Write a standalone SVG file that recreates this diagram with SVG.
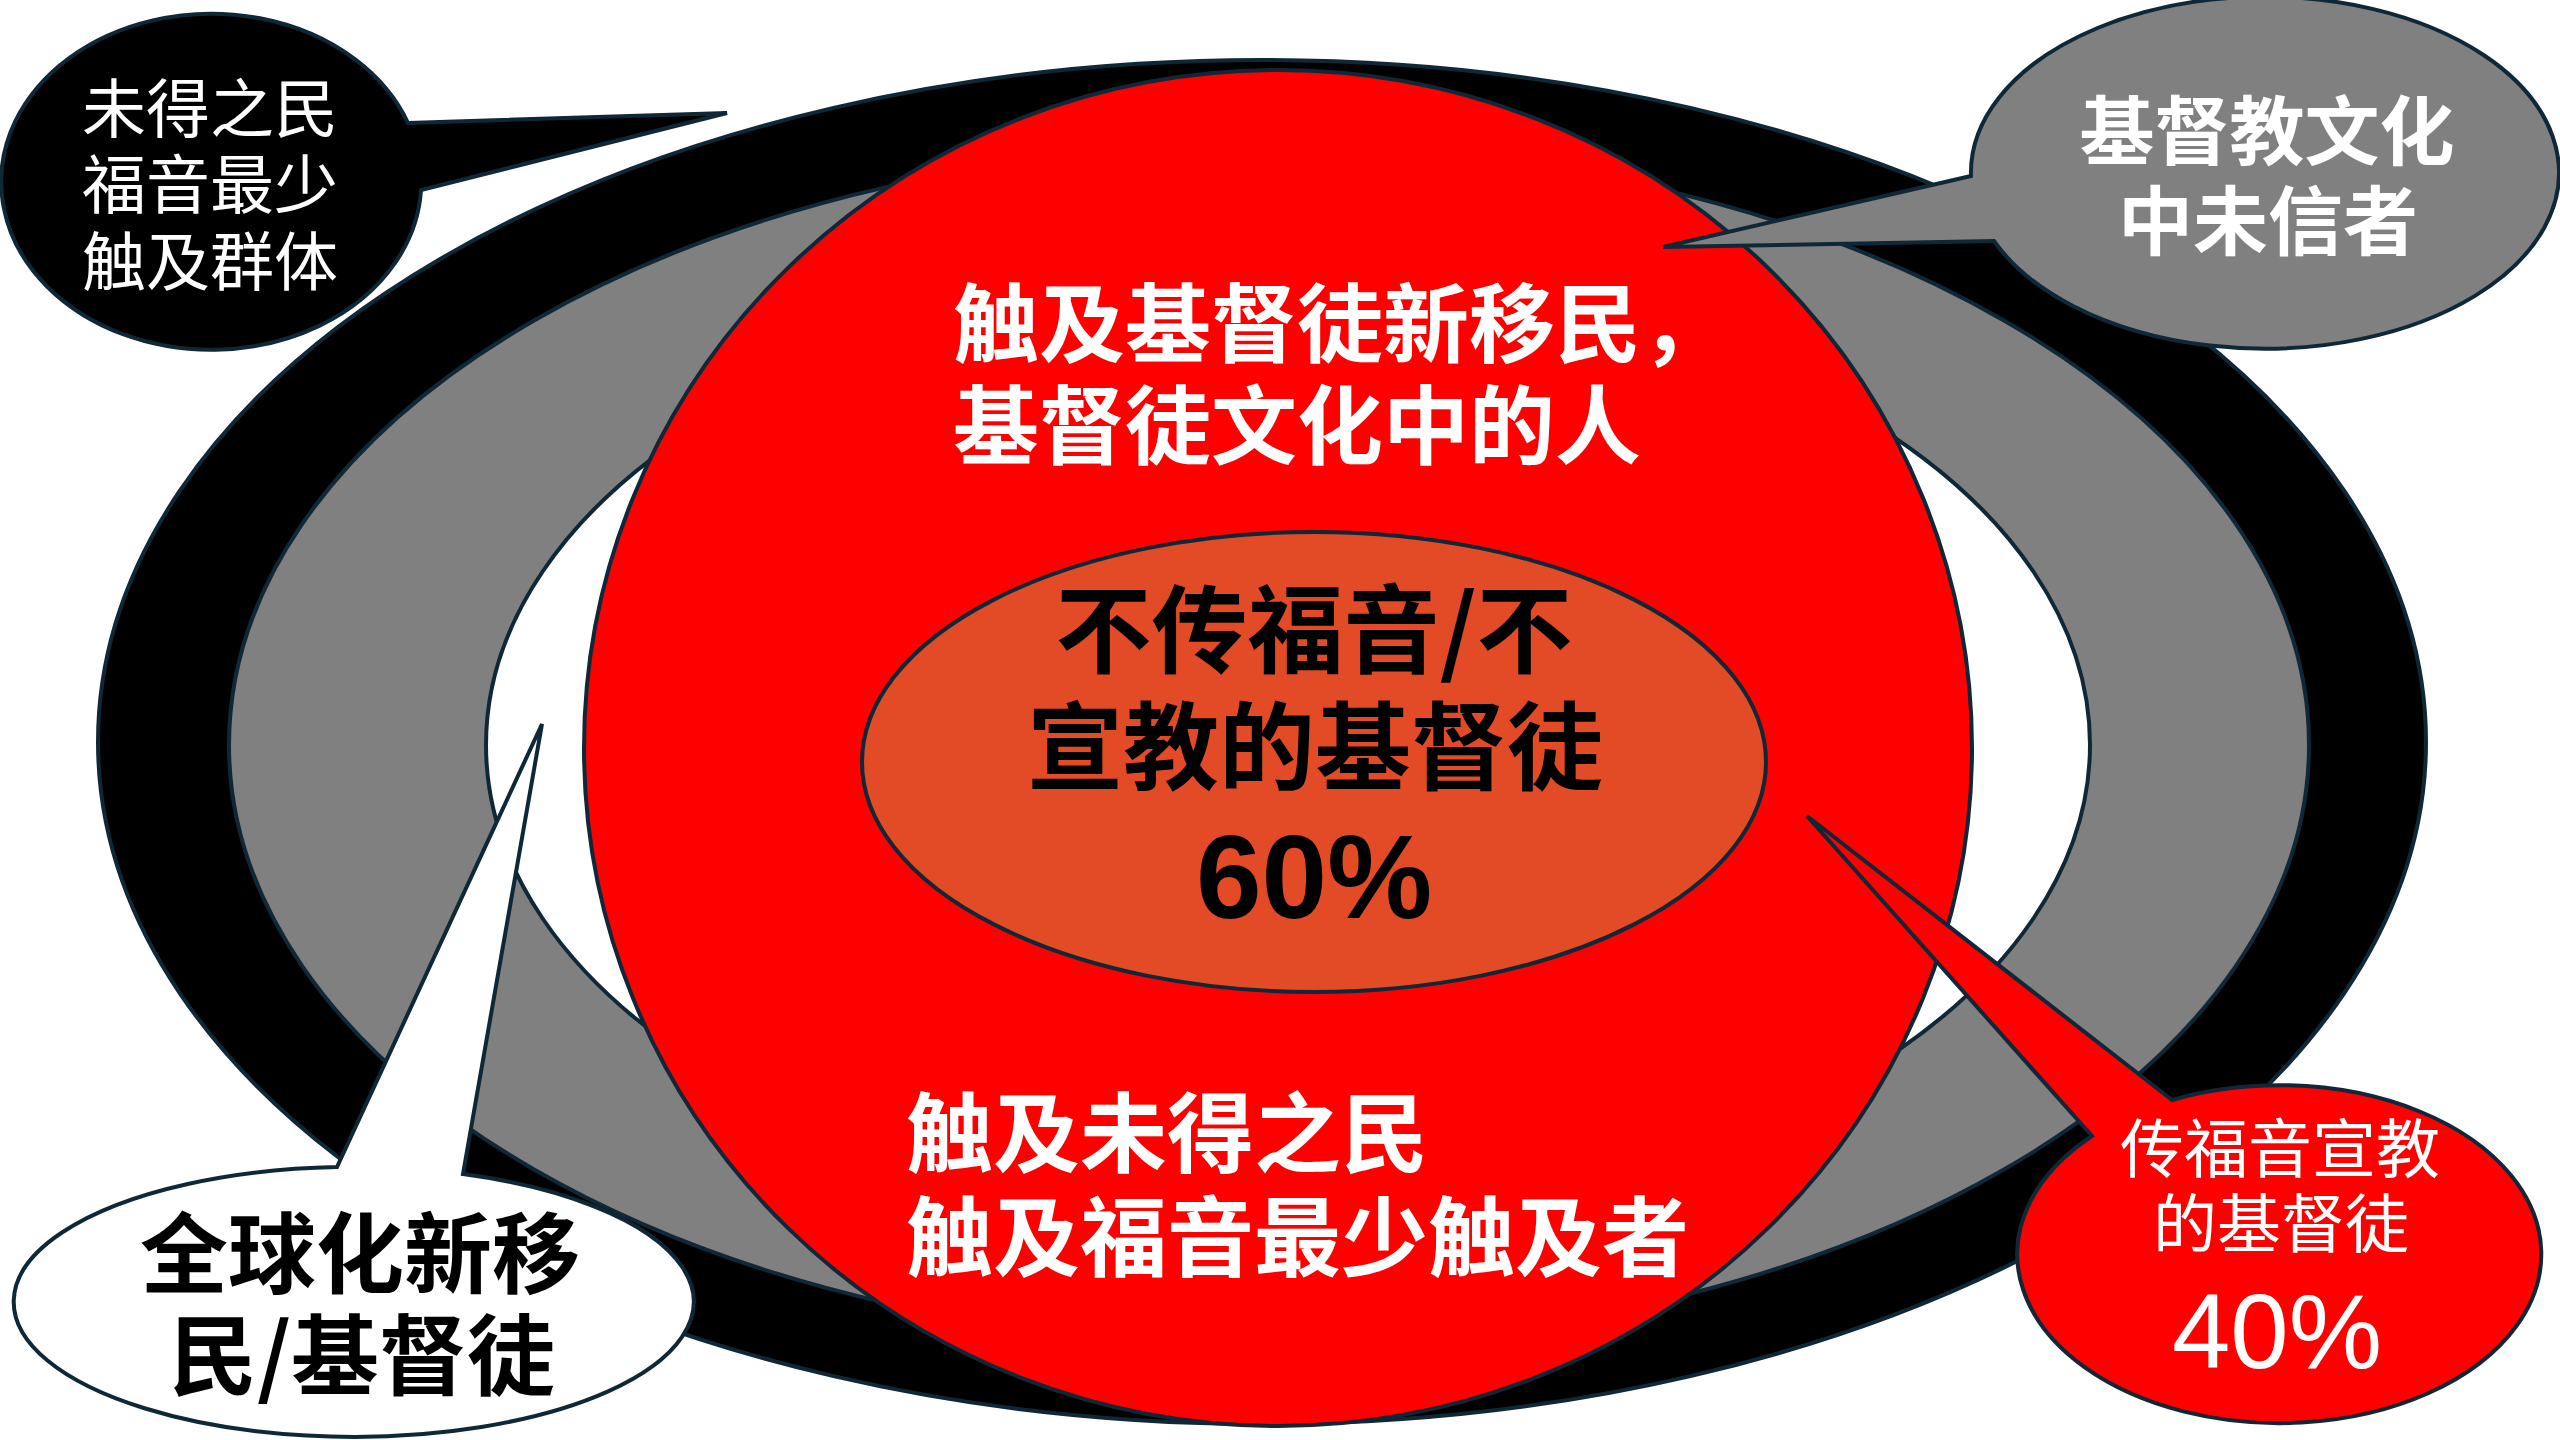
<svg xmlns="http://www.w3.org/2000/svg" width="2560" height="1440" viewBox="0 0 2560 1440">
<style>
.ol{stroke:#0F2838;stroke-width:4;stroke-linejoin:miter}
.cjk{font-family:"Noto Sans CJK SC","Noto Sans",sans-serif}
.lat{font-family:"Liberation Sans",Arial,sans-serif}
.w{fill:#FFFFFF}
.k{fill:#000000}
.b{font-weight:bold}
.m{text-anchor:middle}
</style>
<rect width="2560" height="1440" fill="#FFFFFF"/>
<g id="ring-black"><ellipse cx="1262" cy="742" rx="1164" ry="682" fill="#000000" class="ol"/></g>
<g id="ring-gray"><ellipse cx="1269" cy="745" rx="1040" ry="600" fill="#808080" class="ol" stroke-width="3"/></g>
<g id="ring-white"><ellipse cx="1288" cy="745" rx="802" ry="470" fill="#FFFFFF" class="ol" stroke-width="3"/></g>
<g id="circle-red">
<ellipse cx="1278" cy="748" rx="694" ry="678" fill="#FF0000" class="ol" stroke-width="3"/>
<text class="cjk w b" font-size="86"><tspan x="953" y="356">触及基督徒新移民，</tspan><tspan x="953" y="458">基督徒文化中的人</tspan></text>
<text class="cjk w b" font-size="87"><tspan x="906" y="1166">触及未得之民</tspan><tspan x="906" y="1270">触及福音最少触及者</tspan></text>
</g>
<g id="core-orange">
<ellipse cx="1314" cy="762" rx="452" ry="230" fill="#E34A26" class="ol" stroke-width="3"/>
<text class="cjk k b m" font-size="96"><tspan x="1314" y="665">不传福音/不</tspan><tspan x="1315" y="782">宣教的基督徒</tspan><tspan class="lat" font-size="118" x="1314" y="918">60%</tspan></text>
</g>
<g id="connectors"></g>
<g id="callout-unreached">
<path d="M 408 123 L 727 113 L 421 190 A 210 168 0 1 1 408 123 Z" fill="#000000" class="ol"/>
<text class="cjk w m" font-size="64"><tspan x="210" y="132">未得之民</tspan><tspan x="210" y="208">福音最少</tspan><tspan x="210" y="285">触及群体</tspan></text>
</g>
<g id="callout-culture">
<path d="M 1971 176 L 1663 247 L 1994 241 A 294 176 0 1 0 1971 176 Z" fill="#808080" class="ol"/>
<text class="cjk w b m" font-size="75"><tspan x="2267" y="159">基督教文化</tspan><tspan x="2268" y="249">中未信者</tspan></text>
</g>
<g id="callout-mission">
<path d="M 2172 1100 L 1807 816 L 2092 1136 A 262 169 0 1 0 2172 1100 Z" fill="#FF0000" class="ol"/>
<text class="cjk w m" font-size="64"><tspan x="2280" y="1172">传福音宣教</tspan><tspan x="2281" y="1247">的基督徒</tspan><tspan class="lat" font-size="105" x="2277" y="1368">40%</tspan></text>
</g>
<g id="callout-global">
<path d="M 337 1167 L 542 724 L 463 1174 A 340 135 0 1 1 337 1167 Z" fill="#FFFFFF" class="ol" stroke-width="6"/>
<text class="cjk k b m" font-size="88"><tspan x="360" y="1286">全球化新移</tspan><tspan x="362" y="1388">民/基督徒</tspan></text>
</g>
</svg>
